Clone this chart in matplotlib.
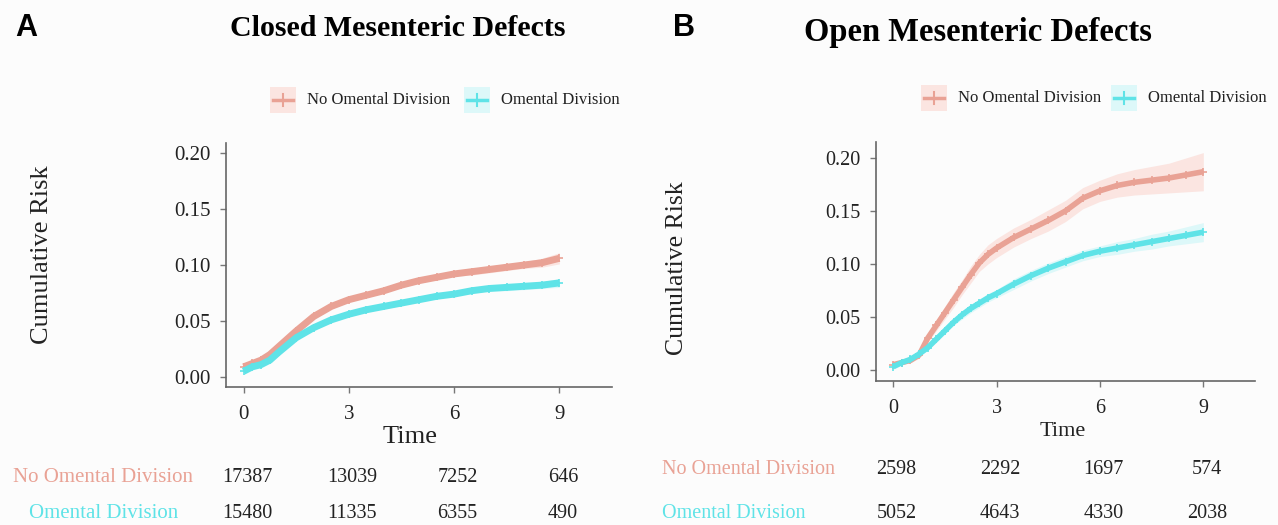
import numpy as np
import matplotlib.pyplot as plt
from matplotlib.patches import Rectangle
from matplotlib.lines import Line2D
import matplotlib.transforms as mtrans

plt.rcParams['font.family'] = ['Liberation Serif', 'DejaVu Serif']

W, H = 1278, 525

# ---- data ----
groups = ["No Omental Division", "Omental Division"]
risk_times = [0, 3, 6, 9]

# panel A: closed mesenteric defects
a_time = [0, 0.25, 0.5, 0.75, 1, 1.5, 2, 2.5, 3, 3.5, 4, 4.5, 5, 5.5,
          6, 6.5, 7, 7.5, 8, 8.5, 9]
a_no_div = [0.009, 0.012, 0.015, 0.020, 0.027, 0.041, 0.054, 0.063, 0.069,
            0.073, 0.077, 0.082, 0.086, 0.089, 0.092, 0.094, 0.096, 0.098,
            0.100, 0.102, 0.106]
a_div = [0.005, 0.009, 0.011, 0.015, 0.022, 0.035, 0.044, 0.051, 0.056,
         0.060, 0.063, 0.066, 0.069, 0.072, 0.074, 0.077, 0.079, 0.080,
         0.081, 0.082, 0.084]
a_no_div_ci = [0.001, 0.001, 0.001, 0.001, 0.002, 0.002, 0.002, 0.002, 0.002,
               0.002, 0.002, 0.002, 0.002, 0.002, 0.002, 0.003, 0.003, 0.003,
               0.003, 0.004, 0.005]
a_div_ci = [0.001, 0.001, 0.001, 0.001, 0.001, 0.002, 0.002, 0.002, 0.002,
            0.002, 0.002, 0.002, 0.002, 0.002, 0.002, 0.002, 0.002, 0.003,
            0.003, 0.003, 0.004]
a_risk_no_div = [17387, 13039, 7252, 646]
a_risk_div = [15480, 11335, 6355, 490]

# panel B: open mesenteric defects
b_time = [0, 0.25, 0.5, 0.75, 1, 1.25, 1.5, 1.75, 2, 2.25, 2.5, 2.75, 3,
          3.5, 4, 4.5, 5, 5.5, 6, 6.5, 7, 7.5, 8, 8.5, 9]
b_no_div = [0.005, 0.007, 0.009, 0.014, 0.030, 0.042, 0.054, 0.066, 0.078,
            0.090, 0.101, 0.109, 0.115, 0.125, 0.133, 0.141, 0.150, 0.162,
            0.169, 0.174, 0.177, 0.179, 0.181, 0.184, 0.187]
b_div = [0.003, 0.007, 0.010, 0.015, 0.021, 0.029, 0.037, 0.045, 0.052,
         0.058, 0.063, 0.068, 0.072, 0.081, 0.089, 0.096, 0.102, 0.108,
         0.112, 0.115, 0.118, 0.121, 0.124, 0.127, 0.130]
b_no_div_ci = [0.001, 0.002, 0.002, 0.003, 0.004, 0.005, 0.006, 0.007, 0.007,
               0.008, 0.008, 0.009, 0.009, 0.009, 0.009, 0.010, 0.010, 0.010,
               0.010, 0.011, 0.012, 0.013, 0.014, 0.016, 0.018]
b_div_ci = [0.001, 0.001, 0.002, 0.002, 0.002, 0.003, 0.003, 0.003, 0.004,
            0.004, 0.004, 0.004, 0.004, 0.005, 0.005, 0.005, 0.005, 0.005,
            0.005, 0.006, 0.006, 0.007, 0.007, 0.008, 0.009]
b_risk_no_div = [2598, 2292, 1697, 574]
b_risk_div = [5052, 4643, 4330, 2038]

RED = '#E9A295'
CYAN = '#5FE3E7'
RED_BAND = '#FBE5E1'
CYAN_BAND = '#DDF8F9'


def fx(x):
    return x / W


def fy(y):
    return 1 - y / H


fig = plt.figure(figsize=(W / 100, H / 100), dpi=100, facecolor='#FCFCFC')


def panel(box, t, no_div, div, no_ci, div_ci, ylim, lw, tick_fs):
    ax = fig.add_axes(box)
    ax.set_facecolor('#FCFCFC')
    t = np.array(t)
    for y, ci, c, band in [(no_div, no_ci, RED, RED_BAND), (div, div_ci, CYAN, CYAN_BAND)]:
        y = np.array(y)
        ci = np.array(ci)
        ax.fill_between(t, y - ci, y + ci, color=band, lw=0)
        ax.plot(t, y, color=c, lw=lw, marker='+', ms=6, mew=1.2,
                solid_capstyle='butt', solid_joinstyle='round')
    ax.set_xlim(-0.5, 10.5)
    ax.set_ylim(*ylim)
    ax.set_xticks([0, 3, 6, 9])
    ax.set_yticks([0, 0.05, 0.10, 0.15, 0.20])
    ax.set_yticklabels(['0.00', '0.05', '0.10', '0.15', '0.20'])
    for s in ['top', 'right']:
        ax.spines[s].set_visible(False)
    for s in ['left', 'bottom']:
        ax.spines[s].set_color('#666666')
        ax.spines[s].set_linewidth(1.2)
    ax.tick_params(colors='#777777', labelcolor='#222222', labelsize=tick_fs,
                   length=4, width=1)
    ax.tick_params(axis='x', pad=9)
    ax.tick_params(axis='y', pad=7)
    return ax


ax_a = panel([fx(226), fy(387), fx(612) - fx(226), fy(143) - fy(387)],
             a_time, a_no_div, a_div, a_no_div_ci, a_div_ci,
             (-0.009, 0.209), 5, 15)
ax_b = panel([fx(876), fy(381), fx(1255) - fx(876), fy(142) - fy(381)],
             b_time, b_no_div, b_div, b_no_div_ci, b_div_ci,
             (-0.0104, 0.215), 4, 14.5)

# titles, panel letters, axis labels
fig.text(fx(26), fy(28), 'A', family='Liberation Sans', weight='bold',
         fontsize=22, ha='center', va='center')
fig.text(fx(684), fy(28), 'B', family='Liberation Sans', weight='bold',
         fontsize=22, ha='center', va='center')
fig.text(fx(398), fy(28), 'Closed Mesenteric Defects', weight='bold',
         fontsize=21.5, ha='center', va='center')
fig.text(fx(978), fy(33), 'Open Mesenteric Defects', weight='bold',
         fontsize=23.5, ha='center', va='center')
fig.text(fx(42), fy(255), 'Cumulative Risk', rotation=90, fontsize=19,
         ha='center', va='center', color='#222222')
fig.text(fx(677), fy(268), 'Cumulative Risk', rotation=90, fontsize=18.5,
         ha='center', va='center', color='#222222')
fig.text(fx(410), fy(437), 'Time', fontsize=19, ha='center', va='center',
         color='#222222')
fig.text(fx(1063), fy(432), 'Time', fontsize=16, ha='center', va='center',
         color='#222222')


# legends
def legend_item(xc, yc, color, band, label, fs):
    fig.patches.append(Rectangle((fx(xc - 13), fy(yc + 13)), fx(26), 26 / H,
                                 transform=fig.transFigure, color=band, lw=0))
    fig.lines.append(Line2D([fx(xc - 10), fx(xc + 10)], [fy(yc), fy(yc)],
                            transform=fig.transFigure, color=color, lw=2.5))
    fig.lines.append(Line2D([fx(xc), fx(xc)], [fy(yc - 6), fy(yc + 6)],
                            transform=fig.transFigure, color=color, lw=1.5))
    fig.text(fx(xc + 24), fy(yc), label, fontsize=fs, ha='left', va='center',
             color='#222222')


legend_item(283, 100, RED, RED_BAND, groups[0], 12)
legend_item(477, 100, CYAN, CYAN_BAND, groups[1], 12)
legend_item(934, 98, RED, RED_BAND, groups[0], 12)
legend_item(1124, 98, CYAN, CYAN_BAND, groups[1], 12)


# risk tables
def risk_table(ax, label_x, rows, ys, fs):
    tr = mtrans.blended_transform_factory(ax.transData, fig.transFigure)
    for (label, color, counts, ha), y in zip(rows, ys):
        fig.text(label_x[ha], fy(y), label, color=color, fontsize=fs,
                 ha=ha, va='center')
        for t, n in zip(risk_times, counts):
            fig.text(t + 0.1, fy(y), str(n), transform=tr, fontsize=14.5,
                     ha='center', va='center', color='#222222')


risk_table(ax_a, {'right': fx(193), 'center': fx(104)},
           [(groups[0], RED, a_risk_no_div, 'right'),
            (groups[1], CYAN, a_risk_div, 'center')],
           [478, 513], 15)
risk_table(ax_b, {'left': fx(662)},
           [(groups[0], RED, b_risk_no_div, 'left'),
            (groups[1], CYAN, b_risk_div, 'left')],
           [470, 514], 14.5)

fig.savefig('out.png', dpi=100, facecolor=fig.get_facecolor())
